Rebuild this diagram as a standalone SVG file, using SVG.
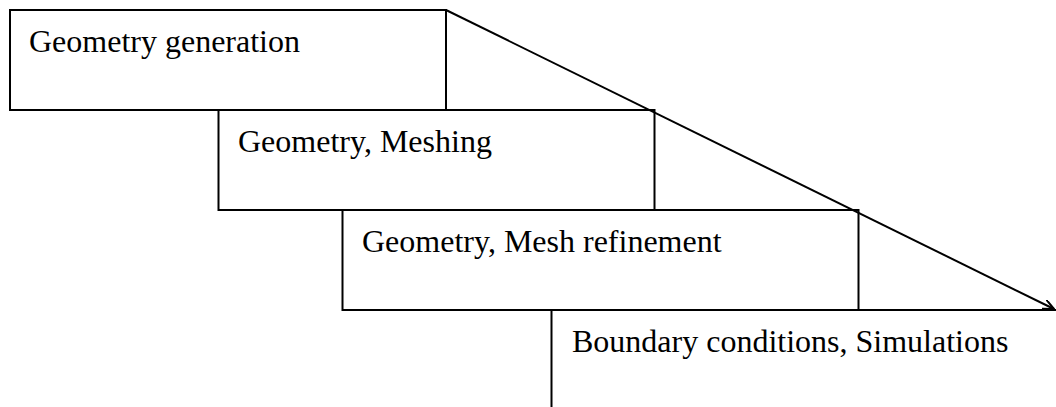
<svg xmlns="http://www.w3.org/2000/svg" width="1056" height="407" viewBox="0 0 1056 407">
  <style>
    .box { fill: none; stroke: #000; stroke-width: 2; }
    .label { font-family: "Liberation Serif", "Times New Roman", serif; font-size: 32px; fill: #000; }
    .conn { fill: none; stroke: #000; stroke-width: 2; }
  </style>
  <defs>
    <marker id="arrow" markerWidth="12" markerHeight="10" refX="11" refY="5" orient="auto" markerUnits="userSpaceOnUse">
      <path d="M0,0 L11,5 L0,10" fill="none" stroke="#000" stroke-width="2"/>
    </marker>
  </defs>
  <rect width="1056" height="407" fill="#fff"/>

  <g id="step-geometry-generation">
    <rect class="box" x="10" y="10" width="436" height="100"/>
    <text class="label" x="29" y="52">Geometry generation</text>
  </g>

  <g id="step-geometry-meshing">
    <rect class="box" x="218.5" y="110" width="436" height="100"/>
    <text class="label" x="238" y="152">Geometry, Meshing</text>
  </g>

  <g id="step-mesh-refinement">
    <rect class="box" x="342.5" y="210" width="516" height="100"/>
    <text class="label" x="362" y="252">Geometry, Mesh refinement</text>
  </g>

  <g id="step-simulations">
    <path class="box" d="M551.5,407 L551.5,310 L1056,310"/>
    <text class="label" x="572" y="352">Boundary conditions, Simulations</text>
  </g>

  <g id="connectors">
    <path class="conn" d="M446,10 L1054,309" marker-end="url(#arrow)"/>
  </g>
</svg>
